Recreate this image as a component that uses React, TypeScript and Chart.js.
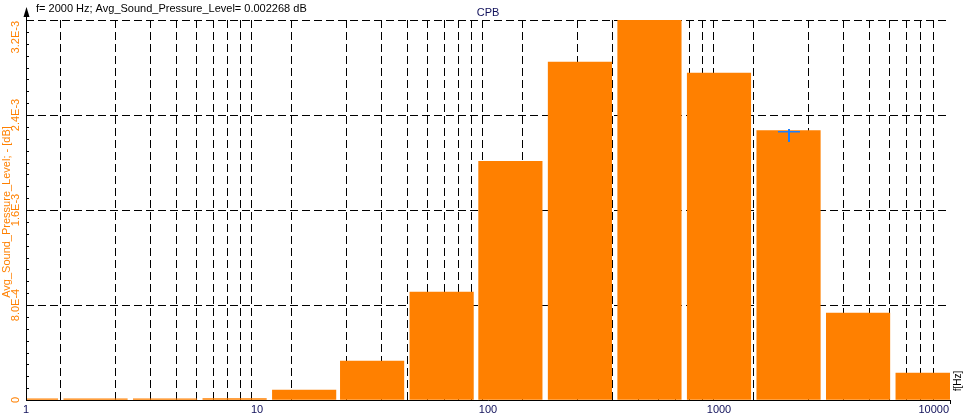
import React, { useEffect, useRef } from 'react';
import { Chart, registerables } from 'chart.js';

Chart.register(...registerables);

// Octave band centre frequencies [Hz]
const bandCenters = [1, 2, 4, 8, 16, 31.5, 63, 125, 250, 500, 1000, 2000, 4000, 8000];
// Avg_Sound_Pressure_Level per band
const bandValues = [
  0.000009, 0.000009, 0.00001, 0.000012, 0.000084, 0.000328, 0.000909,
  0.00201, 0.002846, 0.0032, 0.002754, 0.002268, 0.000733, 0.000227,
];

const xGridValues = [
  1, 2, 3, 4, 5, 6, 7, 8, 9,
  10, 20, 30, 40, 50, 60, 70, 80, 90,
  100, 200, 300, 400, 500, 600, 700, 800, 900,
  1000, 2000, 3000, 4000, 5000, 6000, 7000, 8000, 9000,
  10000,
];
const xLabelValues = [1, 10, 100, 1000, 10000];
const xLabelTexts = ['1', '10', '100', '1000', '10000'];

const yMajorValues = [0, 0.0008, 0.0016, 0.0024, 0.0032];
const yMajorLabels = ['0', '8.0E-4', '1.6E-3', '2.4E-3', '3.2E-3'];
const yMinorValues = [
  0.0001, 0.0002, 0.0003, 0.0004, 0.0005, 0.0006, 0.0007,
  0.0009, 0.001, 0.0011, 0.0012, 0.0013, 0.0014, 0.0015,
  0.0017, 0.0018, 0.0019, 0.002, 0.0021, 0.0022, 0.0023,
  0.0025, 0.0026, 0.0027, 0.0028, 0.0029, 0.003, 0.0031,
];

const cursorFreq = 2000;
const cursorValue = 0.002268;
const headerText = 'f= 2000 Hz; Avg_Sound_Pressure_Level= 0.002268 dB';
const chartTitle = 'CPB';
const yTitle = 'Avg_Sound_Pressure_Level; - [dB]';
const xTitle = 'f[Hz]';

const ORANGE = '#FF8000';
const NAVY = '#10105a';
const FONT = '"Liberation Sans", Arial, sans-serif';
const DASH = [8, 4];

const overlayPlugin = {
  id: 'overlay',
  afterDraw(chart: any) {
    const { ctx, chartArea } = chart;
    const xs = chart.scales.x;
    const ys = chart.scales.y;
    const { left, right, top, bottom } = chartArea;
    ctx.save();

    // axes
    ctx.strokeStyle = '#000';
    ctx.lineWidth = 1;
    ctx.setLineDash([]);
    ctx.beginPath();
    ctx.moveTo(left + 0.5, 12);
    ctx.lineTo(left + 0.5, bottom + 1);
    ctx.moveTo(left, bottom + 0.5);
    ctx.lineTo(right + 0.5, bottom + 0.5);
    ctx.moveTo(right + 0.5, bottom);
    ctx.lineTo(right + 0.5, bottom + 4);
    ctx.stroke();

    // arrow on y axis
    ctx.fillStyle = '#000';
    ctx.beginPath();
    ctx.moveTo(left + 0.5, 7);
    ctx.lineTo(left - 2.5, 17);
    ctx.lineTo(left + 3.5, 17);
    ctx.closePath();
    ctx.fill();

    // y minor ticks (inside)
    ctx.beginPath();
    yMinorValues.forEach((v) => {
      const py = Math.round(ys.getPixelForValue(v)) + 0.5;
      ctx.moveTo(left, py);
      ctx.lineTo(left + 3, py);
    });
    ctx.stroke();

    // y tick labels (rotated)
    ctx.font = `11px ${FONT}`;
    ctx.fillStyle = ORANGE;
    ctx.textAlign = 'center';
    ctx.textBaseline = 'middle';
    yMajorValues.forEach((v, i) => {
      const label = yMajorLabels[i];
      const w = ctx.measureText(label).width;
      let cy = ys.getPixelForValue(v);
      if (cy - w / 2 < top + 1) cy = top + 1 + w / 2;
      ctx.save();
      ctx.translate(16, cy);
      ctx.rotate(-Math.PI / 2);
      ctx.fillText(label, 0, 0);
      ctx.restore();
    });

    // y title
    ctx.save();
    ctx.translate(7, (top + bottom) / 2 + 2);
    ctx.rotate(-Math.PI / 2);
    ctx.fillText(yTitle, 0, 0);
    ctx.restore();

    // x labels
    ctx.fillStyle = NAVY;
    ctx.textBaseline = 'top';
    xLabelValues.forEach((v, i) => {
      const label = xLabelTexts[i];
      const w = ctx.measureText(label).width;
      let cx = xs.getPixelForValue(v);
      if (cx + w / 2 > right - 1) cx = right - 1 - w / 2;
      ctx.fillText(label, cx, bottom + 4);
    });

    // x title (rotated, right side)
    ctx.fillStyle = '#000';
    ctx.font = `10px ${FONT}`;
    ctx.save();
    ctx.translate(958, bottom - 19);
    ctx.rotate(-Math.PI / 2);
    ctx.textBaseline = 'middle';
    ctx.fillText(xTitle, 0, 0);
    ctx.restore();

    // header text
    ctx.font = `11px ${FONT}`;
    ctx.textAlign = 'left';
    ctx.textBaseline = 'middle';
    ctx.fillStyle = '#000';
    ctx.fillText(headerText, 36, 9);

    // chart title
    ctx.textAlign = 'center';
    ctx.fillStyle = NAVY;
    ctx.fillText(chartTitle, (left + right) / 2, 13);

    // cursor marker
    const cx = Math.round(xs.getPixelForValue(cursorFreq));
    const cy = Math.round(ys.getPixelForValue(cursorValue));
    ctx.fillStyle = '#1a7fff';
    ctx.fillRect(cx - 11, cy, 22, 1.5);
    ctx.fillRect(cx - 1, cy - 2, 2, 13);

    ctx.restore();
  },
};

export default function App() {
  const canvasRef = useRef<HTMLCanvasElement | null>(null);

  useEffect(() => {
    if (!canvasRef.current) return;
    const chart = new Chart(canvasRef.current, {
      type: 'bar',
      data: {
        datasets: [
          {
            label: 'Avg_Sound_Pressure_Level',
            data: bandCenters.map((f, i) => ({ x: f, y: bandValues[i] })),
            backgroundColor: ORANGE,
            borderWidth: 0,
            barThickness: 63.5,
            clip: 0,
          } as any,
        ],
      },
      options: {
        animation: false,
        responsive: false,
        devicePixelRatio: 1,
        layout: { padding: { left: 26, top: 20, right: 18, bottom: 17 } },
        plugins: { legend: { display: false }, tooltip: { enabled: false }, title: { display: false } },
        scales: {
          x: {
            type: 'logarithmic',
            min: 1,
            max: 10000,
            afterBuildTicks: (axis: any) => {
              axis.ticks = xGridValues.map((v) => ({ value: v }));
            },
            ticks: { display: false },
            grid: {
              drawTicks: false,
              lineWidth: 1,
              color: (c: any) =>
                c.tick && (c.tick.value === 1 || c.tick.value === 10000) ? 'rgba(0,0,0,0)' : '#000',
            },
            border: { display: false, dash: DASH },
          },
          y: {
            type: 'linear',
            min: 0,
            max: 0.0032,
            afterBuildTicks: (axis: any) => {
              axis.ticks = yMajorValues.map((v) => ({ value: v }));
            },
            ticks: { display: false },
            grid: {
              drawTicks: false,
              lineWidth: 1,
              color: (c: any) => (c.tick && c.tick.value === 0 ? 'rgba(0,0,0,0)' : '#000'),
            },
            border: { display: false, dash: DASH },
          },
        },
      } as any,
      plugins: [overlayPlugin],
    });
    return () => chart.destroy();
  }, []);

  return (
    <div style={{ position: 'absolute', left: 0, top: 0, width: 968, height: 417, background: '#fff' }}>
      <canvas ref={canvasRef} width={968} height={417} style={{ display: 'block' }} />
    </div>
  );
}
